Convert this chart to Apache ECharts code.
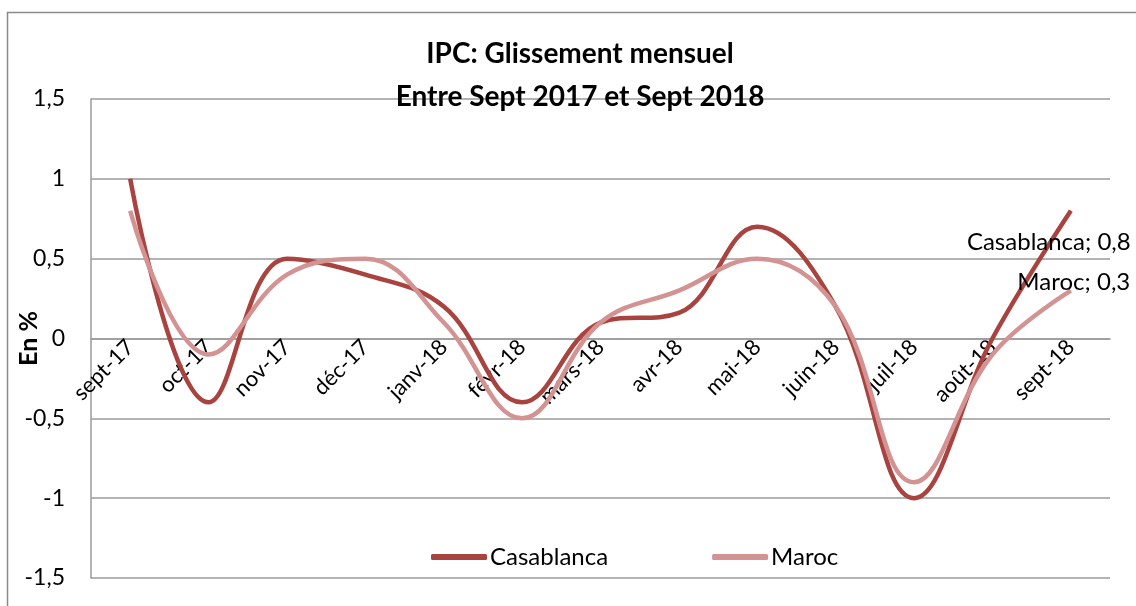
<!DOCTYPE html>
<html>
<head>
<meta charset="utf-8">
<title>IPC: Glissement mensuel</title>
<script src="https://cdn.jsdelivr.net/npm/echarts@6/dist/echarts.min.js"></script>
<style>
    html, body { margin: 0; padding: 0; background: #fff; }
    #chart { width: 1136px; height: 606px; }
</style>
</head>
<body>
<div id="chart"></div>
<script>
(function(g) {
    'use strict';

    var months = ['sept-17', 'oct-17', 'nov-17', 'déc-17', 'janv-18', 'févr-18', 'mars-18',
        'avr-18', 'mai-18', 'juin-18', 'juil-18', 'août-18', 'sept-18'];
    var casablanca = [1, -0.4, 0.5, 0.4, 0.2, -0.4, 0.1, 0.16, 0.7, 0.2, -1, 0, 0.8];
    var maroc = [0.8, -0.1, 0.4, 0.5, 0.1, -0.5, 0.1, 0.3, 0.5, 0.2, -0.9, -0.1, 0.3];
    var yTicks = [-1.5, -1, -0.5, 0, 0.5, 1, 1.5];

    var FONT = 'Lato, "Open Sans", sans-serif';
    var GRID_COLOR = '#9a9a9a';
    var CASA_COLOR = '#a8433f';
    var MAROC_COLOR = '#d39393';

    var GRID_TOP = 99;
    var GRID_HEIGHT = 479;

    function frNumber(v) {
        return String(v).replace('.', ',');
    }

    // seul le dernier point porte une étiquette
    function withLastLabel(values, name, offset) {
        return values.map(function(v, i) {
            if (i !== values.length - 1) {
                return v;
            }
            return {
                value: v,
                label: {
                    show: true,
                    position: 'inside',
                    offset: offset,
                    formatter: name + '; ' + frNumber(v),
                    fontFamily: FONT,
                    fontSize: 24,
                    color: '#000'
                }
            };
        });
    }

    function lineSeries(name, values, color, offset) {
        return {
            name: name,
            type: 'line',
            smooth: 0.4,
            symbol: 'circle',
            symbolSize: 1,
            itemStyle: { color: color },
            lineStyle: { color: color, width: 4.5 },
            emphasis: { disabled: true },
            data: withLastLabel(values, name, offset)
        };
    }

    // l'axe des catégories croise l'axe des valeurs en 0
    var zeroRatio = (yTicks[yTicks.length - 1] - 0) / (yTicks[yTicks.length - 1] - yTicks[0]);
    var xAxisOffset = -(GRID_HEIGHT * (1 - zeroRatio));

    var chart = echarts.init(document.getElementById('chart'));

    chart.setOption({
        animation: false,
        backgroundColor: '#fff',
        textStyle: { fontFamily: FONT },
        title: {
            text: 'IPC: Glissement mensuel\nEntre Sept 2017 et Sept 2018',
            left: 575,
            top: 27,
            textAlign: 'center',
            textStyle: {
                fontFamily: FONT,
                fontSize: 28,
                fontWeight: 'bold',
                lineHeight: 43,
                color: '#000'
            }
        },
        legend: {
            left: 426,
            top: 540,
            icon: 'roundRect',
            itemWidth: 56,
            itemHeight: 6,
            itemGap: 104,
            textStyle: { fontFamily: FONT, fontSize: 24, color: '#000', padding: [0, 0, 0, -2] },
            data: ['Casablanca', 'Maroc']
        },
        grid: {
            left: 91,
            right: 26,
            top: GRID_TOP,
            height: GRID_HEIGHT,
            outerBoundsMode: 'none',
            containLabel: false
        },
        xAxis: {
            type: 'category',
            data: months,
            boundaryGap: true,
            position: 'bottom',
            offset: xAxisOffset,
            axisLine: { onZero: false, lineStyle: { color: GRID_COLOR, width: 1.5 } },
            axisTick: { show: false },
            axisLabel: {
                rotate: 45,
                margin: 5,
                interval: 0,
                fontFamily: FONT,
                fontSize: 22,
                color: '#000'
            }
        },
        yAxis: {
            type: 'value',
            min: yTicks[0],
            max: yTicks[yTicks.length - 1],
            interval: 0.5,
            name: 'En %',
            nameLocation: 'middle',
            nameGap: 50,
            nameRotate: 90,
            nameMoveOverlap: false,
            nameTextStyle: { fontFamily: FONT, fontSize: 25, fontWeight: 'bold', color: '#000' },
            axisLine: { show: true, lineStyle: { color: GRID_COLOR, width: 1.5 } },
            axisTick: { show: false },
            splitLine: { lineStyle: { color: GRID_COLOR, width: 1.5 } },
            axisLabel: {
                margin: 26,
                fontFamily: FONT,
                fontSize: 23,
                color: '#000',
                formatter: function(v) { return frNumber(v); }
            }
        },
        graphic: [{
            type: 'rect',
            silent: true,
            shape: { x: 7.5, y: 12.5, width: 1300, height: 800 },
            style: { fill: 'none', stroke: '#8a8a8a', lineWidth: 1.5 }
        }],
        series: [
            lineSeries('Casablanca', casablanca, CASA_COLOR, [-22, 31]),
            lineSeries('Maroc', maroc, MAROC_COLOR, [3, -8])
        ]
    });

})(window);
</script>
</body>
</html>
